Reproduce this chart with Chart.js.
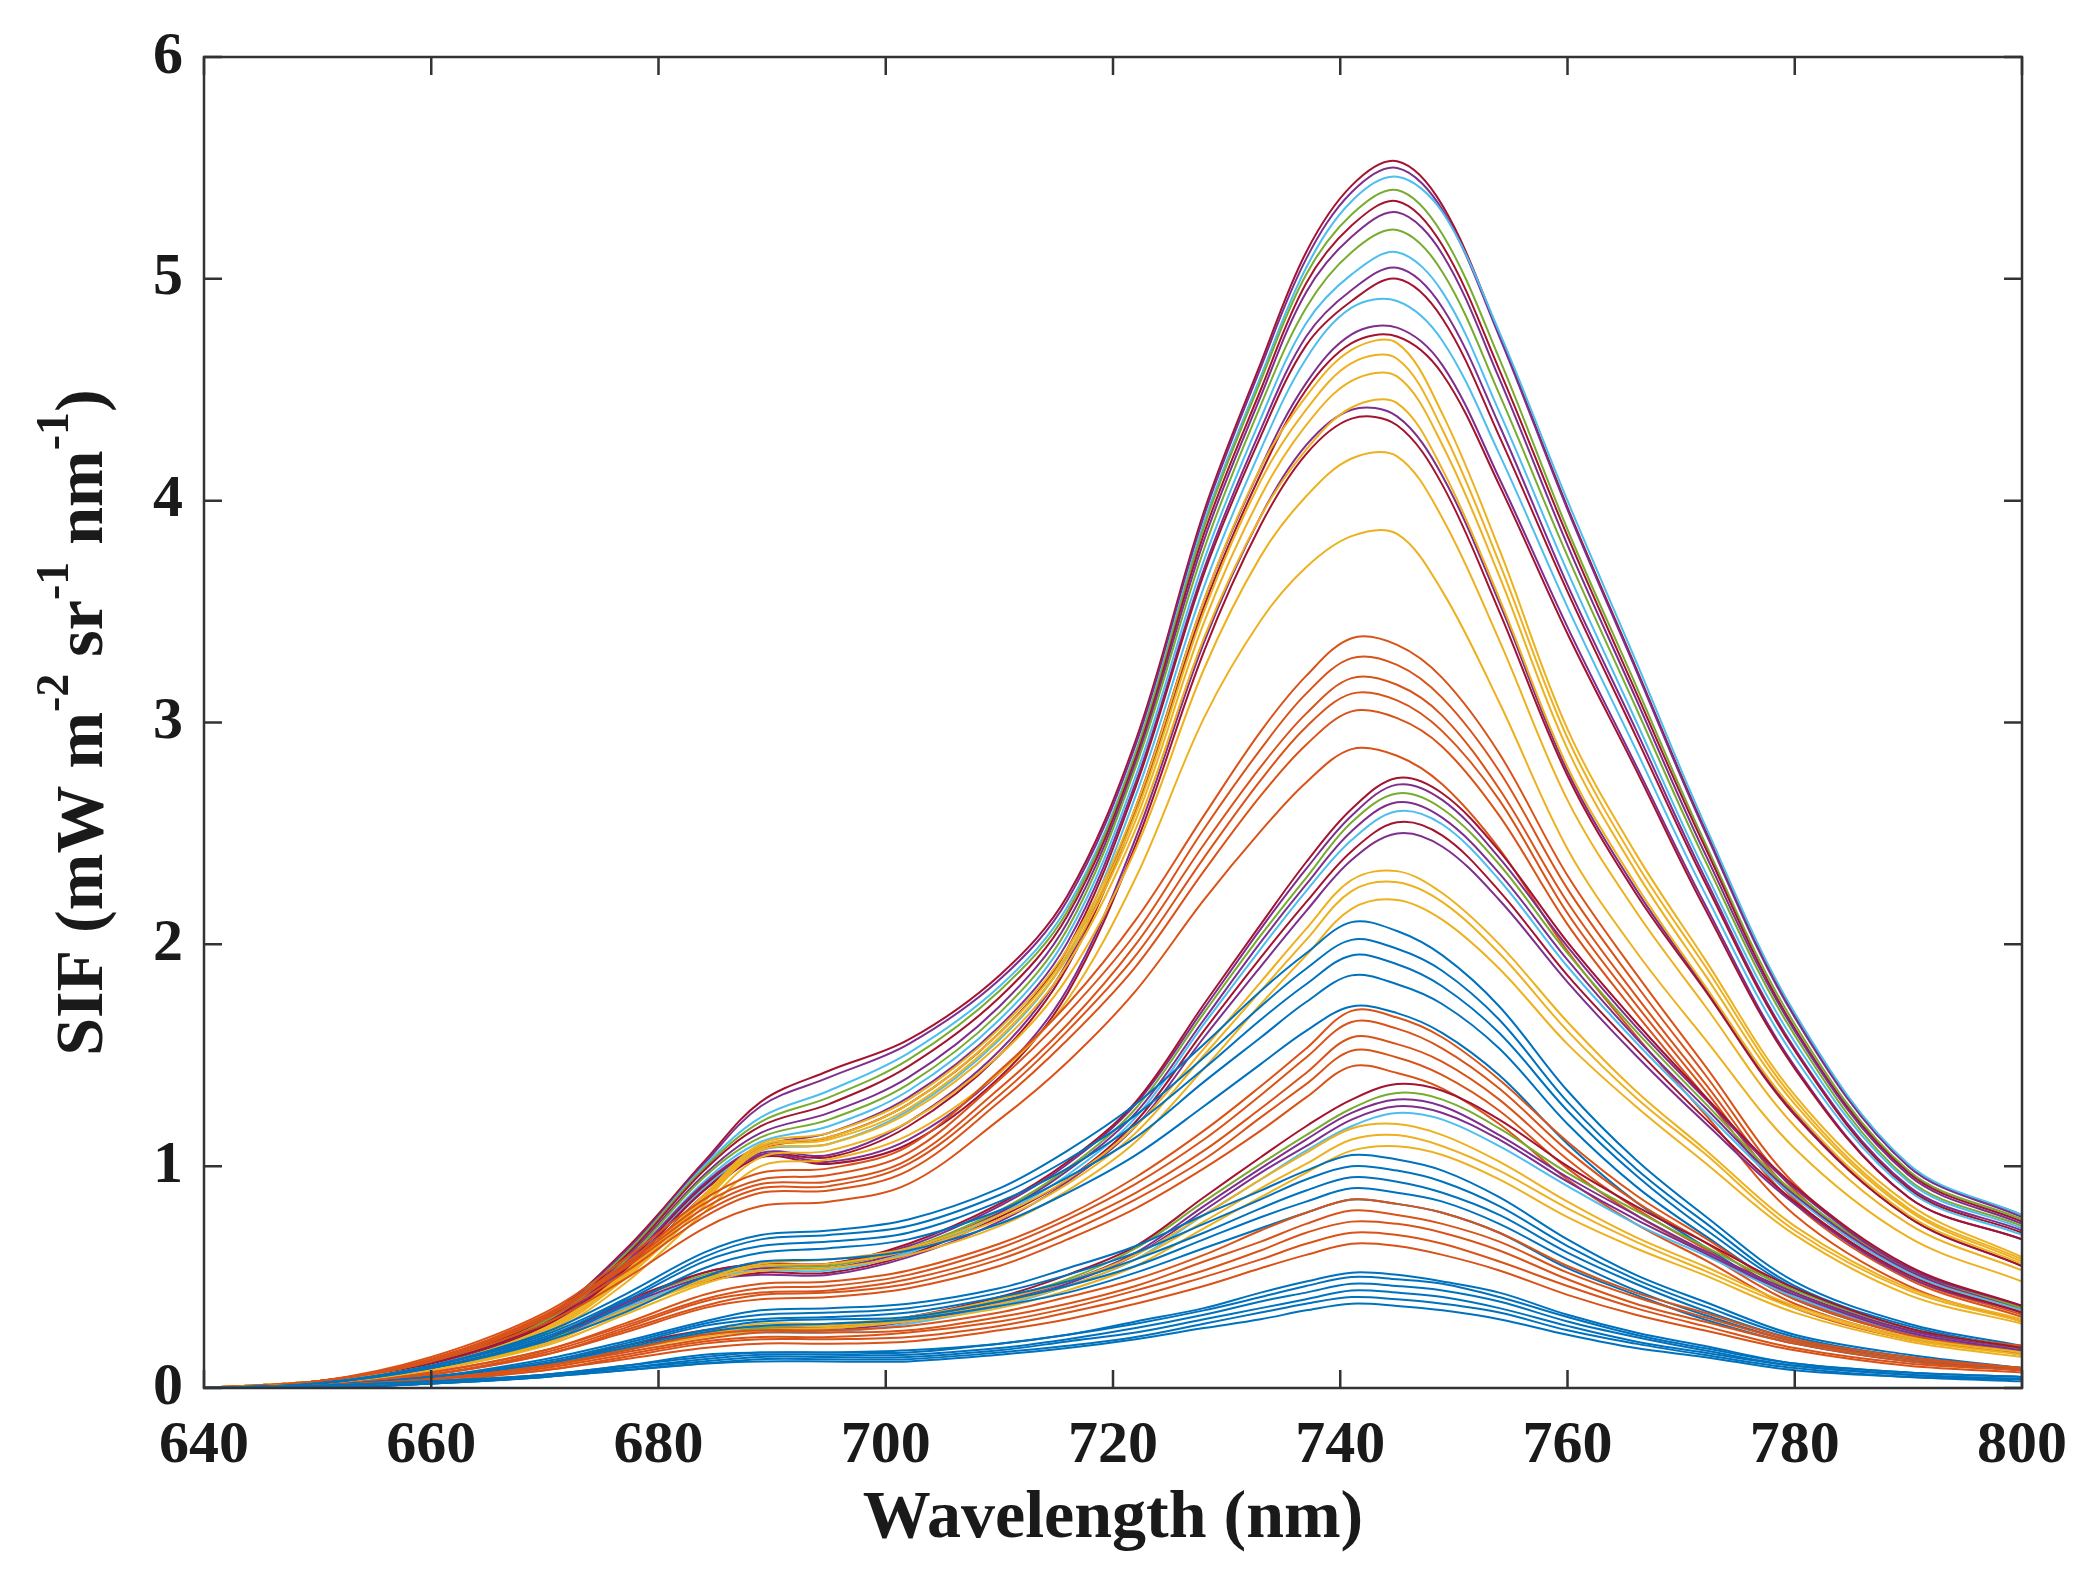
<!DOCTYPE html>
<html>
<head>
<meta charset="utf-8">
<script src="https://cdn.jsdelivr.net/npm/chart.js@4.4.1/dist/chart.umd.min.js"></script>
<style>
html,body{margin:0;padding:0;background:#fff;}
#wrap{width:2089px;height:1588px;}
</style>
</head>
<body>
<div id="wrap"><canvas id="c" width="2089" height="1588"></canvas></div>
<script>
// Wavelength sample points (nm)
const wavelength = [640,650,660,670,677,684,689,695,702,710,716,722,728,733,737,741,745,749,754,760,766,772,780,790,800];
const xTicks = [640,660,680,700,720,740,760,780,800];
const yTicks = [0,1,2,3,4,5,6];

// Highest group (peak ~744 nm)
const A1  = [0,0.03,0.12,0.32,0.62,1.02,1.29,1.43,1.57,1.86,2.22,2.92,3.95,4.62,5.12,5.42,5.53,5.33,4.75,3.97,3.25,2.53,1.68,1.00,0.78];
const A2  = [0,0.03,0.12,0.32,0.61,1.01,1.27,1.40,1.55,1.84,2.20,2.90,3.93,4.60,5.09,5.39,5.50,5.31,4.74,3.96,3.24,2.52,1.67,1.00,0.77];
const A3  = [0,0.03,0.12,0.31,0.60,1.00,1.22,1.34,1.51,1.81,2.17,2.87,3.90,4.56,5.05,5.35,5.46,5.30,4.76,4.00,3.28,2.55,1.69,1.01,0.78];
const A4  = [0,0.03,0.12,0.31,0.60,0.99,1.20,1.31,1.48,1.79,2.15,2.86,3.88,4.54,5.02,5.29,5.40,5.20,4.64,3.87,3.17,2.47,1.64,0.98,0.76];
const A5  = [0,0.03,0.12,0.31,0.59,0.98,1.18,1.28,1.45,1.76,2.13,2.84,3.85,4.50,4.98,5.24,5.35,5.15,4.59,3.84,3.14,2.45,1.62,0.97,0.75];
const A6  = [0,0.03,0.11,0.30,0.58,0.96,1.15,1.24,1.40,1.72,2.10,2.82,3.82,4.47,4.94,5.19,5.30,5.11,4.55,3.80,3.11,2.42,1.61,0.96,0.74];
const A7  = [0,0.03,0.11,0.30,0.57,0.95,1.13,1.21,1.37,1.69,2.07,2.80,3.78,4.43,4.87,5.12,5.22,5.03,4.48,3.75,3.07,2.39,1.59,0.94,0.73];
const A8  = [0,0.03,0.11,0.29,0.56,0.93,1.11,1.18,1.34,1.66,2.04,2.76,3.73,4.37,4.80,5.02,5.12,4.94,4.40,3.68,3.01,2.34,1.56,0.93,0.72];
const A9  = [0,0.03,0.11,0.29,0.56,0.92,1.09,1.15,1.31,1.63,2.01,2.73,3.69,4.32,4.74,4.95,5.05,4.87,4.34,3.62,2.97,2.31,1.53,0.91,0.71];
const A10 = [0,0.03,0.11,0.29,0.55,0.91,1.08,1.13,1.28,1.60,1.98,2.71,3.67,4.29,4.70,4.90,5.00,4.82,4.29,3.59,2.94,2.29,1.52,0.90,0.70];
const A11 = [0,0.03,0.10,0.28,0.54,0.90,1.07,1.10,1.25,1.57,1.95,2.67,3.61,4.23,4.64,4.87,4.90,4.72,4.21,3.52,2.88,2.24,1.49,0.89,0.69];
const A12 = [0,0.03,0.10,0.28,0.54,0.89,1.06,1.05,1.20,1.52,1.92,2.62,3.55,4.15,4.53,4.75,4.78,4.61,4.10,3.43,2.81,2.19,1.45,0.86,0.67];
const A13 = [0,0.03,0.10,0.28,0.53,0.89,1.05,1.04,1.18,1.50,1.90,2.60,3.52,4.12,4.50,4.71,4.74,4.57,4.07,3.40,2.79,2.17,1.44,0.86,0.67];
const A14 = [0,0.03,0.10,0.27,0.52,0.87,1.05,1.02,1.12,1.42,1.80,2.48,3.36,3.93,4.25,4.41,4.38,4.11,3.54,2.78,2.25,1.81,1.24,0.77,0.55];
const A15 = [0,0.03,0.10,0.27,0.52,0.86,1.04,1.01,1.10,1.40,1.78,2.45,3.32,3.89,4.21,4.37,4.34,4.07,3.50,2.76,2.23,1.80,1.23,0.77,0.55];
// Yellow curves of the highest group
const Y1 = [0,0.03,0.10,0.27,0.52,0.87,1.10,1.15,1.30,1.62,1.98,2.62,3.55,4.15,4.47,4.68,4.71,4.39,3.78,2.97,2.41,1.94,1.32,0.83,0.59];
const Y2 = [0,0.03,0.10,0.27,0.51,0.86,1.09,1.13,1.28,1.60,1.96,2.59,3.50,4.09,4.41,4.62,4.64,4.32,3.72,2.93,2.37,1.91,1.30,0.81,0.58];
const Y3 = [0,0.03,0.10,0.26,0.50,0.85,1.08,1.12,1.26,1.58,1.94,2.56,3.45,4.02,4.34,4.54,4.56,4.25,3.66,2.88,2.33,1.87,1.28,0.80,0.57];
const Y4 = [0,0.03,0.10,0.26,0.50,0.84,1.07,1.10,1.24,1.55,1.91,2.52,3.38,3.93,4.23,4.42,4.44,4.14,3.56,2.80,2.27,1.82,1.25,0.78,0.56];
const Y5 = [0,0.03,0.10,0.25,0.49,0.82,1.04,1.07,1.20,1.50,1.85,2.43,3.24,3.75,4.02,4.19,4.20,3.92,3.37,2.65,2.15,1.73,1.18,0.74,0.53];
const Y6 = [0,0.03,0.09,0.24,0.47,0.79,1.00,1.03,1.14,1.42,1.75,2.30,3.02,3.46,3.70,3.84,3.85,3.59,3.09,2.43,1.97,1.58,1.08,0.68,0.48];
// Orange group (peak ~742 nm, 2.9-3.4)
const B1 = [0,0.03,0.14,0.34,0.58,0.85,0.97,0.99,1.09,1.43,1.73,2.11,2.58,2.96,3.21,3.38,3.35,3.20,2.86,2.31,1.87,1.46,0.92,0.54,0.36];
const B2 = [0,0.03,0.13,0.33,0.56,0.83,0.94,0.96,1.06,1.39,1.69,2.05,2.52,2.88,3.13,3.29,3.26,3.11,2.78,2.25,1.82,1.42,0.89,0.53,0.35];
const B3 = [0,0.03,0.13,0.32,0.55,0.81,0.92,0.93,1.03,1.35,1.64,2.00,2.45,2.80,3.04,3.20,3.17,3.03,2.70,2.19,1.77,1.38,0.87,0.52,0.34];
const B4 = [0,0.03,0.13,0.32,0.54,0.79,0.90,0.91,1.01,1.32,1.61,1.95,2.39,2.74,2.98,3.13,3.10,2.96,2.65,2.14,1.73,1.35,0.85,0.50,0.33];
const B5 = [0,0.03,0.12,0.31,0.52,0.77,0.88,0.89,0.98,1.29,1.57,1.90,2.33,2.67,2.90,3.05,3.02,2.89,2.58,2.09,1.69,1.32,0.83,0.49,0.32];
const B6 = [0,0.03,0.12,0.29,0.49,0.72,0.82,0.84,0.92,1.21,1.47,1.79,2.20,2.51,2.73,2.88,2.85,2.72,2.43,1.97,1.59,1.24,0.78,0.46,0.30];
// Middle group (peak ~744 nm, 2.5-2.75)
const C1 = [0,0.02,0.09,0.22,0.39,0.52,0.56,0.56,0.65,0.83,1.02,1.29,1.73,2.09,2.37,2.61,2.75,2.68,2.42,2.01,1.65,1.32,0.91,0.55,0.37];
const C2 = [0,0.02,0.09,0.22,0.38,0.52,0.56,0.56,0.64,0.82,1.01,1.28,1.71,2.07,2.34,2.58,2.72,2.65,2.39,1.99,1.63,1.31,0.90,0.54,0.37];
const C3 = [0,0.02,0.09,0.21,0.38,0.51,0.55,0.55,0.63,0.80,0.99,1.26,1.69,2.04,2.30,2.55,2.68,2.61,2.36,1.96,1.61,1.29,0.88,0.54,0.36];
const C4 = [0,0.02,0.09,0.21,0.37,0.50,0.54,0.54,0.62,0.79,0.98,1.24,1.66,2.01,2.27,2.51,2.64,2.57,2.32,1.93,1.58,1.27,0.87,0.53,0.36];
const C5 = [0,0.02,0.09,0.21,0.36,0.49,0.53,0.53,0.61,0.78,0.96,1.22,1.64,1.98,2.24,2.47,2.60,2.54,2.29,1.90,1.56,1.25,0.86,0.52,0.35];
const C6 = [0,0.02,0.08,0.20,0.36,0.48,0.52,0.52,0.60,0.77,0.94,1.20,1.61,1.94,2.19,2.42,2.55,2.49,2.24,1.86,1.53,1.22,0.84,0.51,0.34];
const C7 = [0,0.02,0.08,0.20,0.35,0.48,0.51,0.51,0.59,0.75,0.93,1.18,1.58,1.90,2.15,2.38,2.50,2.44,2.20,1.83,1.50,1.20,0.83,0.50,0.34];
const CY1 = [0,0.02,0.08,0.20,0.35,0.49,0.56,0.58,0.63,0.78,0.94,1.18,1.53,1.83,2.07,2.29,2.33,2.23,2.00,1.65,1.34,1.08,0.73,0.45,0.31];
const CY2 = [0,0.02,0.08,0.20,0.35,0.48,0.55,0.56,0.62,0.76,0.92,1.15,1.50,1.79,2.02,2.24,2.28,2.19,1.96,1.61,1.31,1.06,0.71,0.44,0.30];
const CY3 = [0,0.02,0.08,0.19,0.33,0.47,0.53,0.54,0.60,0.73,0.89,1.11,1.44,1.73,1.95,2.16,2.20,2.11,1.89,1.55,1.27,1.02,0.69,0.42,0.29];
const CB1 = [0,0.02,0.10,0.25,0.42,0.61,0.69,0.71,0.76,0.90,1.07,1.28,1.55,1.79,1.96,2.10,2.06,1.95,1.72,1.34,1.03,0.78,0.48,0.29,0.19];
const CB2 = [0,0.02,0.10,0.24,0.40,0.59,0.67,0.69,0.73,0.87,1.03,1.23,1.49,1.72,1.89,2.02,1.98,1.88,1.66,1.29,0.99,0.75,0.46,0.28,0.18];
const CB3 = [0,0.02,0.10,0.23,0.39,0.57,0.64,0.66,0.70,0.84,0.99,1.19,1.44,1.66,1.82,1.95,1.91,1.81,1.60,1.25,0.96,0.72,0.45,0.27,0.18];
const CB4 = [0,0.02,0.09,0.22,0.37,0.54,0.61,0.63,0.67,0.80,0.95,1.13,1.38,1.58,1.74,1.86,1.82,1.73,1.53,1.19,0.91,0.69,0.43,0.26,0.17];
const CB5 = [0,0.02,0.09,0.21,0.34,0.50,0.57,0.58,0.62,0.74,0.88,1.05,1.27,1.46,1.61,1.72,1.69,1.60,1.41,1.10,0.84,0.64,0.40,0.24,0.15];
// Orange group (peak ~741 nm, 1.45-1.7)
const D1 = [0,0.01,0.07,0.17,0.29,0.42,0.47,0.48,0.53,0.65,0.78,0.95,1.16,1.36,1.53,1.70,1.67,1.58,1.39,1.11,0.87,0.68,0.43,0.26,0.19];
const D2 = [0,0.01,0.07,0.17,0.28,0.40,0.45,0.46,0.51,0.63,0.76,0.92,1.12,1.32,1.49,1.65,1.62,1.53,1.35,1.07,0.84,0.66,0.41,0.25,0.18];
const D3 = [0,0.01,0.06,0.16,0.27,0.39,0.43,0.44,0.49,0.60,0.73,0.88,1.07,1.26,1.42,1.58,1.55,1.47,1.30,1.03,0.81,0.63,0.40,0.24,0.17];
const D4 = [0,0.01,0.06,0.15,0.26,0.37,0.42,0.43,0.47,0.58,0.70,0.85,1.03,1.22,1.37,1.52,1.49,1.41,1.25,0.99,0.78,0.61,0.38,0.23,0.17];
const D5 = [0,0.01,0.06,0.15,0.25,0.36,0.40,0.41,0.45,0.55,0.67,0.81,0.99,1.16,1.31,1.45,1.42,1.35,1.19,0.94,0.74,0.58,0.36,0.22,0.16];
// Lower group (peak ~744 nm, 0.85-1.37)
const E1 = [0,0.01,0.05,0.11,0.19,0.26,0.28,0.28,0.32,0.41,0.51,0.64,0.86,1.04,1.18,1.30,1.37,1.34,1.21,1.00,0.82,0.66,0.45,0.27,0.18];
const E2 = [0,0.01,0.04,0.11,0.19,0.25,0.27,0.27,0.31,0.40,0.49,0.63,0.84,1.01,1.14,1.26,1.33,1.30,1.17,0.97,0.80,0.64,0.44,0.27,0.18];
const E3 = [0,0.01,0.04,0.10,0.18,0.25,0.27,0.27,0.31,0.39,0.48,0.61,0.82,0.99,1.12,1.24,1.30,1.27,1.14,0.95,0.78,0.62,0.43,0.26,0.18];
const E4 = [0,0.01,0.04,0.10,0.18,0.24,0.26,0.26,0.30,0.38,0.47,0.60,0.80,0.97,1.09,1.21,1.27,1.24,1.12,0.93,0.76,0.61,0.42,0.25,0.17];
const E5 = [0,0.01,0.04,0.10,0.17,0.24,0.25,0.25,0.29,0.37,0.46,0.58,0.78,0.94,1.07,1.18,1.24,1.21,1.09,0.91,0.74,0.60,0.41,0.25,0.17];
const EY1 = [0,0.01,0.04,0.10,0.18,0.25,0.29,0.29,0.32,0.40,0.48,0.60,0.78,0.94,1.06,1.17,1.19,1.14,1.02,0.84,0.68,0.55,0.37,0.23,0.16];
const EY2 = [0,0.01,0.04,0.10,0.17,0.24,0.28,0.28,0.31,0.38,0.46,0.58,0.75,0.90,1.01,1.12,1.14,1.09,0.98,0.81,0.66,0.53,0.36,0.22,0.15];
const EY3 = [0,0.01,0.04,0.09,0.17,0.23,0.26,0.27,0.30,0.36,0.44,0.55,0.72,0.86,0.97,1.07,1.09,1.05,0.94,0.77,0.63,0.51,0.34,0.21,0.14];
const EB1 = [0,0.01,0.05,0.13,0.21,0.30,0.35,0.36,0.38,0.45,0.54,0.64,0.78,0.89,0.98,1.05,1.03,0.98,0.86,0.67,0.51,0.39,0.24,0.15,0.09];
const EB2 = [0,0.01,0.05,0.12,0.20,0.29,0.33,0.34,0.36,0.43,0.51,0.61,0.74,0.85,0.94,1.00,0.98,0.93,0.82,0.64,0.49,0.37,0.23,0.14,0.09];
const EB3 = [0,0.01,0.05,0.11,0.19,0.28,0.31,0.32,0.34,0.41,0.48,0.58,0.70,0.81,0.89,0.95,0.93,0.88,0.78,0.61,0.47,0.35,0.22,0.13,0.09];
const EB4 = [0,0.01,0.05,0.11,0.18,0.26,0.30,0.31,0.32,0.39,0.46,0.55,0.67,0.77,0.84,0.90,0.88,0.84,0.74,0.58,0.44,0.33,0.21,0.13,0.08];
const EB5 = [0,0.01,0.04,0.10,0.17,0.25,0.28,0.29,0.31,0.37,0.43,0.52,0.63,0.72,0.79,0.85,0.83,0.79,0.70,0.54,0.42,0.31,0.20,0.12,0.08];
// Orange group (peak ~740 nm, 0.65-0.85)
const F1 = [0,0.01,0.04,0.10,0.17,0.24,0.26,0.26,0.28,0.34,0.41,0.49,0.60,0.71,0.79,0.85,0.83,0.79,0.70,0.55,0.43,0.34,0.22,0.14,0.09];
const F2 = [0,0.01,0.04,0.10,0.16,0.22,0.25,0.25,0.26,0.32,0.38,0.46,0.57,0.66,0.74,0.80,0.78,0.74,0.66,0.52,0.41,0.32,0.21,0.13,0.09];
const F3 = [0,0.01,0.04,0.09,0.15,0.21,0.23,0.23,0.25,0.30,0.36,0.44,0.53,0.62,0.70,0.75,0.74,0.70,0.62,0.49,0.38,0.30,0.20,0.12,0.08];
const F4 = [0,0.01,0.04,0.08,0.14,0.20,0.22,0.22,0.23,0.28,0.34,0.41,0.50,0.58,0.65,0.70,0.69,0.65,0.57,0.46,0.36,0.28,0.18,0.11,0.08];
const F5 = [0,0.01,0.03,0.08,0.13,0.18,0.20,0.20,0.21,0.26,0.31,0.38,0.46,0.54,0.60,0.65,0.64,0.60,0.53,0.42,0.33,0.26,0.17,0.10,0.07];
// Lowest blue group (peak ~740 nm, 0.38-0.52)
const G1 = [0,0.01,0.03,0.06,0.10,0.15,0.16,0.16,0.17,0.20,0.24,0.30,0.36,0.43,0.48,0.52,0.51,0.48,0.43,0.33,0.25,0.19,0.11,0.07,0.05];
const G2 = [0,0.01,0.03,0.06,0.10,0.14,0.16,0.16,0.16,0.20,0.24,0.29,0.35,0.41,0.46,0.50,0.49,0.47,0.41,0.32,0.24,0.18,0.11,0.07,0.05];
const G3 = [0,0.00,0.02,0.06,0.09,0.13,0.15,0.15,0.15,0.18,0.22,0.27,0.33,0.39,0.43,0.47,0.46,0.44,0.39,0.30,0.23,0.17,0.10,0.06,0.04];
const G4 = [0,0.00,0.02,0.05,0.09,0.12,0.14,0.14,0.14,0.17,0.21,0.25,0.31,0.36,0.40,0.44,0.43,0.41,0.36,0.28,0.21,0.16,0.10,0.06,0.04];
const G5 = [0,0.00,0.02,0.05,0.08,0.11,0.13,0.13,0.13,0.16,0.19,0.23,0.29,0.34,0.38,0.41,0.40,0.38,0.34,0.26,0.20,0.15,0.09,0.05,0.04];
const G6 = [0,0.00,0.02,0.05,0.08,0.11,0.12,0.12,0.12,0.15,0.18,0.22,0.27,0.31,0.35,0.38,0.37,0.35,0.31,0.24,0.18,0.14,0.08,0.05,0.03];

// MATLAB default line colours
const BLUE='#0072BD', ORANGE='#D95319', YELLOW='#EDB120', PURPLE='#7E2F8E', GREEN='#77AC30', CYAN='#4DBEEE', DARKRED='#A2142F';

const series = [
  [G1,BLUE],[G2,BLUE],[G3,BLUE],[G4,BLUE],[G5,BLUE],[G6,BLUE],
  [F1,ORANGE],[F2,ORANGE],[F3,ORANGE],[F4,ORANGE],[F5,ORANGE],
  [EB1,BLUE],[EB2,BLUE],[EB3,BLUE],[EB4,BLUE],[EB5,BLUE],
  [EY1,YELLOW],[EY2,YELLOW],[EY3,YELLOW],
  [E1,DARKRED],[E2,GREEN],[E3,PURPLE],[E4,PURPLE],[E5,CYAN],
  [D1,ORANGE],[D2,ORANGE],[D3,ORANGE],[D4,ORANGE],[D5,ORANGE],
  [CB1,BLUE],[CB2,BLUE],[CB3,BLUE],[CB4,BLUE],[CB5,BLUE],
  [CY1,YELLOW],[CY2,YELLOW],[CY3,YELLOW],
  [C1,DARKRED],[C2,PURPLE],[C3,GREEN],[C4,PURPLE],[C5,CYAN],[C6,DARKRED],[C7,PURPLE],
  [B1,ORANGE],[B2,ORANGE],[B3,ORANGE],[B4,ORANGE],[B5,ORANGE],[B6,ORANGE],
  [Y1,YELLOW],[Y2,YELLOW],[Y3,YELLOW],[Y4,YELLOW],[Y5,YELLOW],[Y6,YELLOW],
  [A15,DARKRED],[A14,PURPLE],[A13,DARKRED],[A12,PURPLE],[A11,CYAN],[A10,DARKRED],[A9,PURPLE],
  [A8,CYAN],[A7,GREEN],[A6,PURPLE],[A5,DARKRED],[A4,GREEN],[A3,CYAN],[A2,PURPLE],[A1,DARKRED]
];

const datasets = series.map(([vals,color]) => ({
  data: wavelength.map((w,i) => ({x:w, y:vals[i]})),
  borderColor: color,
  borderWidth: 2,
  pointRadius: 0,
  fill: false,
  tension: 0.35
}));

const FONT = '"Liberation Serif", "Times New Roman", serif';
const INK = '#1a1a1a';

const framePlugin = {
  id: 'frame',
  afterDraw(chart) {
    const {ctx, chartArea:a, scales:{x, y}} = chart;
    ctx.save();
    ctx.strokeStyle = '#333';
    ctx.lineWidth = 2.5;
    ctx.strokeRect(a.left, a.top, a.right - a.left, a.bottom - a.top);
    const L = 18;
    ctx.beginPath();
    xTicks.forEach(v => {
      const px = x.getPixelForValue(v);
      ctx.moveTo(px, a.bottom); ctx.lineTo(px, a.bottom - L);
      ctx.moveTo(px, a.top); ctx.lineTo(px, a.top + L);
    });
    yTicks.forEach(v => {
      const py = y.getPixelForValue(v);
      ctx.moveTo(a.left, py); ctx.lineTo(a.left + L, py);
      ctx.moveTo(a.right, py); ctx.lineTo(a.right - L, py);
    });
    ctx.stroke();

    // x title
    ctx.fillStyle = INK;
    ctx.font = 'bold 68px ' + FONT;
    ctx.textAlign = 'center';
    ctx.textBaseline = 'middle';
    ctx.fillText('Wavelength (nm)', (a.left + a.right) / 2, 1519);

    // y title with superscripts
    const parts = [
      ['SIF (mW m', false], ['-2', true], [' sr', false], ['-1', true],
      [' nm', false], ['-1', true], [')', false]
    ];
    const mainF = 'bold 68px ' + FONT, supF = 'bold 46px ' + FONT;
    let total = 0;
    parts.forEach(([t, s]) => { ctx.font = s ? supF : mainF; total += ctx.measureText(t).width; });
    ctx.translate(80, (a.top + a.bottom) / 2);
    ctx.rotate(-Math.PI / 2);
    ctx.textAlign = 'left';
    ctx.textBaseline = 'alphabetic';
    let cx = -total / 2;
    parts.forEach(([t, s]) => {
      ctx.font = s ? supF : mainF;
      ctx.fillText(t, cx, s ? -12 : 22);
      cx += ctx.measureText(t).width;
    });
    ctx.restore();
  }
};

new Chart(document.getElementById('c'), {
  type: 'line',
  data: { datasets },
  options: {
    responsive: false,
    animation: false,
    devicePixelRatio: 1,
    layout: { padding: { top: 43, right: 61, left: 0, bottom: 0 } },
    plugins: { legend: { display: false }, tooltip: { enabled: false } },
    scales: {
      x: {
        type: 'linear', min: 640, max: 800,
        afterFit(s) { s.height = 200; },
        afterBuildTicks(s) { s.ticks = xTicks.map(v => ({value: v})); },
        grid: { display: false, drawTicks: false },
        border: { display: false },
        ticks: { padding: 22, color: INK, font: { family: FONT, size: 60, weight: 'bold' }, maxRotation: 0 }
      },
      y: {
        type: 'linear', min: 0, max: 6,
        afterFit(s) { s.width = 204; },
        afterBuildTicks(s) { s.ticks = yTicks.map(v => ({value: v})); },
        grid: { display: false, drawTicks: false },
        border: { display: false },
        ticks: { padding: 21, color: INK, font: { family: FONT, size: 60, weight: 'bold' } }
      }
    }
  },
  plugins: [framePlugin]
});
</script>
</body>
</html>
